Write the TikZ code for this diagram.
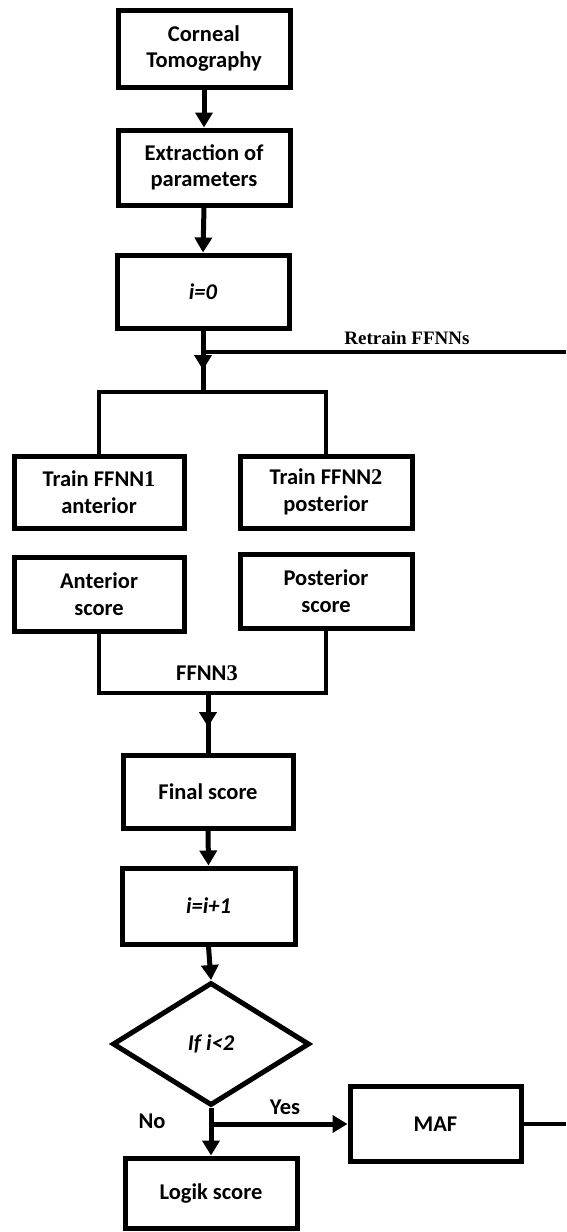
\documentclass[tikz,border=0pt]{standalone}
\usepackage{fontspec}
\setmainfont{Carlito}
\newfontfamily\tnr{Liberation Serif}
\usetikzlibrary{arrows.meta,shapes.geometric}
\begin{document}
\begin{tikzpicture}[x=1pt,y=-1pt,
  box/.style={draw,line width=5pt,inner sep=0pt,align=center,
    font=\fontsize{22.5}{26.5}\selectfont\bfseries},
  conn/.style={line width=5pt},
  bar/.style={line width=4.5pt},
  thin line/.style={line width=3.5pt},
  arr/.style={line width=5pt,-{Triangle[length=15pt,width=17pt]}},
  lbl/.style={inner sep=0pt,font=\fontsize{22.5}{26}\selectfont\bfseries}]
\fill[white] (0,0) rectangle (566,1232);
\useasboundingbox (0,0) rectangle (566,1232);

% boxes
\node[box,minimum width=172pt,minimum height=77pt] (c1) at (204,48.5) {Corneal\\Tomography};
\node[box,minimum width=172pt,minimum height=75pt] (c2) at (204,167.5) {Extraction of\\parameters};
\node[box,minimum width=172pt,minimum height=73pt] (c3) at (203,291.5) {\itshape i=0};
\node[box,minimum width=170pt,minimum height=72pt] (t1) at (99,492) {Train FFNN{\tnr 1}\\anterior};
\node[box,minimum width=172pt,minimum height=72pt] (t2) at (326,492) {Train FFNN{\tnr 2}\\posterior};
\node[box,minimum width=170pt,minimum height=74pt] (a1) at (99,594) {Anterior\\score};
\node[box,minimum width=172pt,minimum height=74pt] (p1) at (326,591) {Posterior\\score};
\node[box,minimum width=170pt,minimum height=73pt] (f) at (208,791.5) {Final score};
\node[box,minimum width=173pt,minimum height=76pt] (inc) at (208.5,906) {\itshape i=i+1};
\node[box,shape=diamond,minimum width=197pt,minimum height=123pt] (dec) at (211,1044) {\itshape If i<2};
\node[box,minimum width=171pt,minimum height=75pt] (maf) at (435.5,1124) {MAF};
\node[box,minimum width=172pt,minimum height=70pt] (lg) at (211,1193) {Logik score};

% junction coordinates
\coordinate (tip1) at (203,370);
\coordinate (j1) at (203,392);
\coordinate (r1) at (203,352);
\coordinate (rEnd) at (566,352);
\coordinate (j2) at (208,693);
\coordinate (tip2) at (208,727);
\coordinate (j3) at (211,1124);
\coordinate (mEnd) at (566,1124);

% connectors
\draw[arr] (c1.south) -- (c2.north);
\draw[arr] (c2.south) -- (c3.north);
\draw[conn] (c3.south) -- (j1);
\draw[arr] (c3.south) -- (tip1);
\draw[thin line] (r1) -- (rEnd);
\draw[bar] (t1.north) |- (j1) -| (t2.north);
\draw[bar] (a1.south) |- (j2) -| (p1.south);
\draw[conn] (j2) -- (f.north);
\draw[arr] (j2) -- (tip2);
\draw[arr] (f.south) -- (inc.north);
\draw[arr] (inc.south) -- (dec.north);
\draw[arr] (dec.south) -- (lg.north);
\draw[arr] (j3) -- (maf.west);
\draw[bar] (maf.east) -- (mEnd);

% labels
\node[inner sep=0pt,font=\fontsize{19}{22}\selectfont\bfseries\tnr] (lr) at (407,338) {Retrain FFNNs};
\node[lbl] (lf) at (207,673) {FFNN{\tnr 3}};
\node[lbl] (ly) at (285,1107) {Yes};
\node[lbl] (ln) at (152,1121) {No};
\end{tikzpicture}
\end{document}
